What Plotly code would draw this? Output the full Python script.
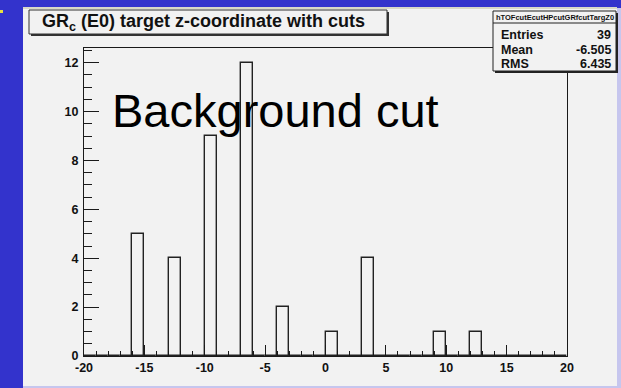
import numpy as np
import plotly.graph_objects as go

# ---------------- data ----------------
bin_edges_lo = -20
bin_edges_hi = 20
bin_width = 1
counts = [0, 0, 0, 0, 5, 0, 0, 4, 0, 0,
          9, 0, 0, 12, 0, 0, 2, 0, 0, 0,
          1, 0, 0, 4, 0, 0, 0, 0, 0, 1,
          0, 0, 1, 0, 0, 0, 0, 0, 0, 0]
x_tick_vals = [-20, -15, -10, -5, 0, 5, 10, 15, 20]
x_tick_labels = ["-20", "-15", "-10", "-5", "0", "5", "10", "15", "20"]
y_tick_vals = [0, 2, 4, 6, 8, 10, 12]
y_tick_labels = ["0", "2", "4", "6", "8", "10", "12"]
hist_name = "hTOFcutEcutHPcutGRfcutTargZ0"
stat_labels = ["Entries", "Mean", "RMS"]
stat_values = ["39", "-6.505", "6.435"]
title_text = "GR<sub>c</sub> (E0) target z-coordinate with cuts"
overlay_text = "Background cut"

centers = np.arange(bin_edges_lo, bin_edges_hi, bin_width) + bin_width / 2.0

# ---------------- geometry helpers ----------------
W, H = 621, 388
L, R, T, B = 84, 54, 48, 32
PW, PH = W - L - R, H - T - B


def px(x):
    return (x - L) / PW


def py(y):
    return (H - B - y) / PH


FONT = "Liberation Sans, Arial, sans-serif"
CANVAS = "#f2f2f2"
BLUE = "#3333cc"
LINE = "#1a1a1a"

fig = go.Figure()
fig.add_trace(go.Bar(
    x=centers, y=counts, width=bin_width,
    marker=dict(color="rgba(0,0,0,0)", line=dict(color="#222222", width=1.4)),
    showlegend=False, hoverinfo="skip",
))

shapes = []
# canvas
shapes.append(dict(type="rect", xref="paper", yref="paper", layer="below",
                   x0=px(23), x1=px(617), y0=py(386), y1=py(8),
                   fillcolor=CANVAS, line=dict(width=0)))
# right / bottom lavender edges
shapes.append(dict(type="rect", xref="paper", yref="paper", layer="below",
                   x0=px(617), x1=px(621), y0=py(388), y1=py(8),
                   fillcolor="#c6c6ee", line=dict(width=0)))
shapes.append(dict(type="rect", xref="paper", yref="paper", layer="below",
                   x0=px(23), x1=px(621), y0=py(388), y1=py(386),
                   fillcolor="#c6c6ee", line=dict(width=0)))
# top light line
shapes.append(dict(type="rect", xref="paper", yref="paper", layer="below",
                   x0=px(23), x1=px(617), y0=py(9), y1=py(7),
                   fillcolor="#d8d8c8", line=dict(width=0)))
# small yellow mark at top-left
shapes.append(dict(type="rect", xref="paper", yref="paper", layer="below",
                   x0=px(0), x1=px(3), y0=py(13), y1=py(10),
                   fillcolor="#e8e040", line=dict(width=0)))

# title box with shadow
shapes.append(dict(type="rect", xref="paper", yref="paper",
                   x0=px(31), x1=px(389), y0=py(36), y1=py(12),
                   fillcolor="#333333", line=dict(width=0)))
shapes.append(dict(type="rect", xref="paper", yref="paper",
                   x0=px(29), x1=px(387), y0=py(34), y1=py(10),
                   fillcolor=CANVAS, line=dict(color="#333333", width=1)))
# stats box with shadow
shapes.append(dict(type="rect", xref="paper", yref="paper",
                   x0=px(495), x1=px(618), y0=py(73), y1=py(13),
                   fillcolor="#222222", line=dict(width=0)))
shapes.append(dict(type="rect", xref="paper", yref="paper",
                   x0=px(493), x1=px(616), y0=py(71), y1=py(11),
                   fillcolor=CANVAS, line=dict(color="#222222", width=1)))
shapes.append(dict(type="line", xref="paper", yref="paper",
                   x0=px(493), x1=px(616), y0=py(23), y1=py(23),
                   line=dict(color="#222222", width=1)))

annotations = []
annotations.append(dict(text=title_text, xref="paper", yref="paper",
                        x=px(203), y=py(23), xanchor="center", yanchor="middle",
                        showarrow=False,
                        font=dict(family=FONT, size=18, color="#111111", weight="bold")))
annotations.append(dict(text=hist_name, xref="paper", yref="paper",
                        x=px(554.5), y=py(17), xanchor="center", yanchor="middle",
                        showarrow=False,
                        font=dict(family=FONT, size=7.5, color="#111111", weight="bold")))
row_y = [35, 50, 64]
for lab, val, ry in zip(stat_labels, stat_values, row_y):
    annotations.append(dict(text=lab, xref="paper", yref="paper",
                            x=px(499), y=py(ry), xanchor="left", yanchor="middle",
                            showarrow=False,
                            font=dict(family=FONT, size=12.5, color="#111111", weight="bold")))
    annotations.append(dict(text=val, xref="paper", yref="paper",
                            x=px(613), y=py(ry), xanchor="right", yanchor="middle",
                            showarrow=False,
                            font=dict(family=FONT, size=12.5, color="#111111", weight="bold")))
annotations.append(dict(text=overlay_text, xref="paper", yref="paper",
                        x=px(110), y=py(110), xanchor="left", yanchor="middle",
                        showarrow=False,
                        font=dict(family=FONT, size=47, color="#000000")))

axis_common = dict(showline=True, linecolor=LINE, linewidth=1, mirror=True,
                   ticks="inside", tickcolor=LINE, tickwidth=1,
                   showgrid=False, zeroline=False,
                   tickfont=dict(family=FONT, size=12.5, color="#111111", weight="bold"))

fig.update_layout(
    width=W, height=H,
    margin=dict(l=L, r=R, t=T, b=B, pad=0),
    paper_bgcolor=BLUE,
    plot_bgcolor=CANVAS,
    bargap=0,
    shapes=shapes,
    annotations=annotations,
    xaxis=dict(range=[bin_edges_lo, bin_edges_hi], tickvals=x_tick_vals,
               ticktext=x_tick_labels, ticklen=11,
               minor=dict(dtick=1, ticklen=5, ticks="inside", tickcolor=LINE, showgrid=False),
               **axis_common),
    yaxis=dict(range=[0, 12.6], tickvals=y_tick_vals, ticktext=y_tick_labels,
               ticklen=15, ticklabelstandoff=2,
               minor=dict(dtick=0.5, ticklen=8, ticks="inside", tickcolor=LINE, showgrid=False),
               **axis_common),
)

fig.write_html("out.html")
